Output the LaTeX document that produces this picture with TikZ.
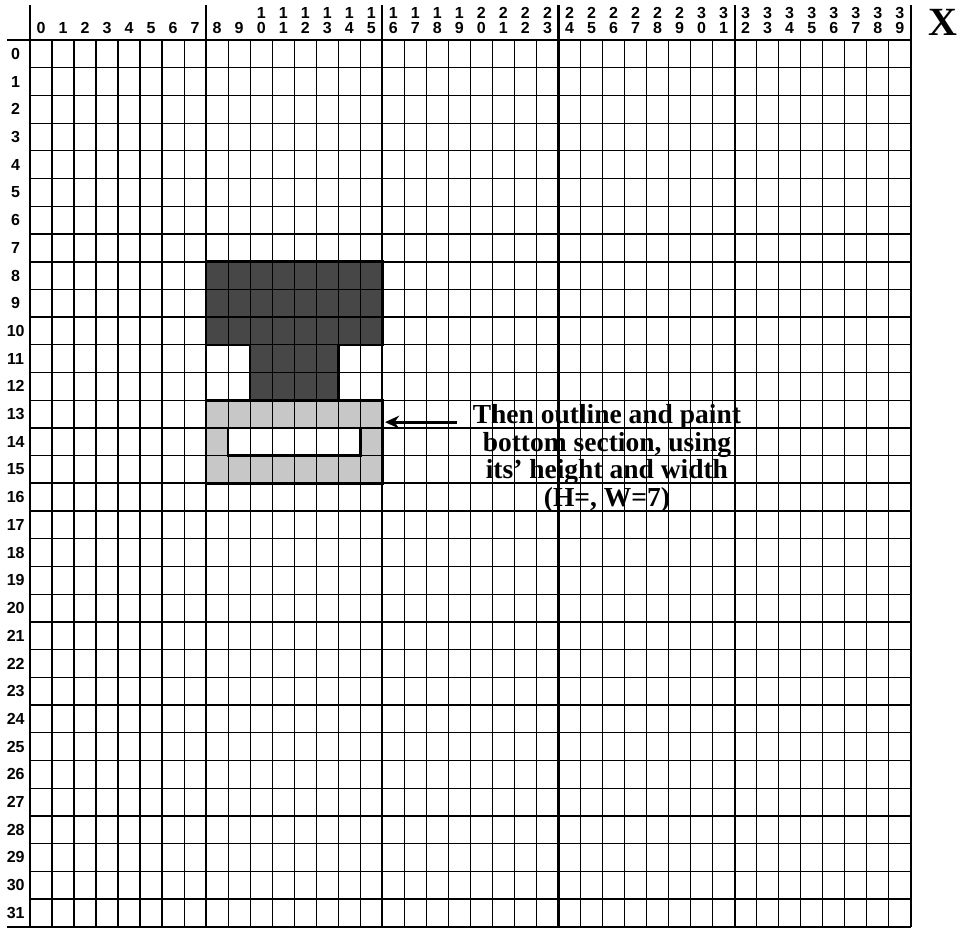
\documentclass[tikz,border=0pt]{standalone}
\usepackage{fontspec}
\setmainfont{Liberation Serif}
\setsansfont{Liberation Sans}
\usetikzlibrary{arrows.meta}
\definecolor{inkdark}{gray}{0.28}
\definecolor{inklight}{gray}{0.78}
\tikzset{
  thinline/.style={line width=1.25pt, draw=black},
  heavyline/.style={line width=2.2pt, draw=black},
  numlbl/.style={font=\sffamily\bfseries\fontsize{16}{16}\selectfont, inner sep=0pt},
  outline/.style={line width=2.6pt, draw=black, line join=miter},
  darkpart/.style={fill=inkdark},
  lightpart/.style={fill=inklight},
  note/.style={font=\bfseries\fontsize{27.5}{27.7}\selectfont, align=center, inner sep=0pt},
  pointer/.style={draw=black, line width=3.2pt, -{Stealth[length=5mm,width=4.5mm]}}
}

\begin{document}
\begin{tikzpicture}[x=22.02pt, y=-27.71pt]
  \useasboundingbox (-1.362,-1.4435) rectangle (42.734,32.083);
  \fill[darkpart] (8,8) -- (16,8) -- (16,11) -- (14,11) -- (14,13) -- (10,13) -- (10,11) -- (8,11) -- cycle;
  \fill[lightpart] (8,13) rectangle (16,16);
  \fill[white] (9,14) rectangle (15,15);
  \foreach \c in {1,...,39} \draw[thinline] (\c,0) -- (\c,32);
  \foreach \r in {1,...,31} \draw[thinline] (0,\r) -- (40,\r);
  \foreach \c in {0,8,...,40} \draw[heavyline] (\c,-1.26) -- (\c,32);
  \foreach \r in {8,16,24} \draw[heavyline] (0,\r) -- (40,\r);
  \foreach \r in {0,32} \draw[heavyline] (-1.04,\r) -- (40,\r);
  \draw[outline] (8,8) -- (16,8) -- (16,11) -- (14,11) -- (14,13) -- (10,13) -- (10,11) -- (8,11) -- cycle;
  \draw[outline] (8,13) rectangle (16,16);
  \draw[outline] (9,14) rectangle (15,15);
  \foreach \c in {0,...,9} \node[numlbl] (col\c) at (\c+0.5,-0.42) {\c};
  \foreach \c in {10,...,39} {
    \pgfmathtruncatemacro\tens{\c/10}
    \pgfmathtruncatemacro\units{mod(\c,10)}
    \node[numlbl] (tens\c) at (\c+0.5,-0.97) {\tens};
    \node[numlbl] (col\c) at (\c+0.5,-0.42) {\units};
  }
  \foreach \r in {0,...,31} \node[numlbl] (row\r) at (-0.65,\r+0.5) {\r};
  \node[font=\bfseries\fontsize{40}{40}\selectfont, inner sep=0pt] (axis) at (41.46,-0.65) {X};
  \node[note] (note) at (26.2,15.1) {Then outline and paint\\bottom section, using\\its' height and width\\(H=, W=7)};
  \coordinate (tail) at (19.4,13.79);
  \coordinate (tip) at (16.12,13.79);
  \draw[pointer] (tail) -- (tip);
\end{tikzpicture}
\end{document}
